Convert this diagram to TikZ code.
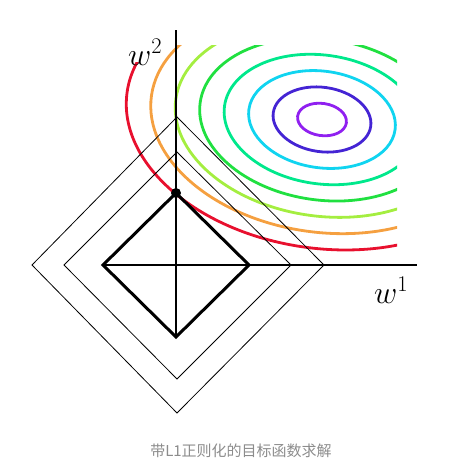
\RequirePackage{fix-cm}
\documentclass[tikz,border=0pt]{standalone}
\usepackage{fontspec}
\newfontfamily\cjk{Noto Sans CJK SC}
\definecolor{cRed}{HTML}{E8102E}
\definecolor{cOrange}{HTML}{F5A040}
\definecolor{cLime}{HTML}{A4EE40}
\definecolor{cGreen}{HTML}{20E040}
\definecolor{cSpring}{HTML}{00E88C}
\definecolor{cCyan}{HTML}{10D4F0}
\definecolor{cBlue}{HTML}{4424D4}
\definecolor{cPurple}{HTML}{9020F0}
\definecolor{capgray}{HTML}{8C8C8C}
\tikzset{
  contour/.style={line width=2.8pt},
  axisline/.style={line width=2.8pt},
  boldbox/.style={line width=3pt, line join=miter},
  thinbox/.style={line width=0.8pt, line join=miter},
  axlabel/.style={font=\fontsize{32}{36}\selectfont, inner sep=0pt, anchor=base west},
}
\begin{document}
\begin{tikzpicture}[x=1pt,y=-1pt]
\useasboundingbox (0,0) rectangle (454,467);
% contours
\begin{scope}
  \clip (0,45) rectangle (397,265);
  \begin{scope}[rotate around={-8:(322,119.5)}]
    \draw[contour,cPurple] (322,119.5) ellipse [x radius=24.6pt, y radius=16.1pt];
    \draw[contour,cBlue]   (322,119.5) ellipse [x radius=49.2pt, y radius=32.2pt];
    \draw[contour,cCyan]   (322,119.5) ellipse [x radius=73.8pt, y radius=48.3pt];
    \draw[contour,cSpring] (322,119.5) ellipse [x radius=98.4pt, y radius=64.4pt];
    \draw[contour,cGreen]  (322,119.5) ellipse [x radius=123pt, y radius=80.5pt];
    \draw[contour,cLime]   (322,119.5) ellipse [x radius=147.6pt, y radius=96.6pt];
    \draw[contour,cOrange] (322,119.5) ellipse [x radius=172.2pt, y radius=112.7pt];
  \end{scope}
\end{scope}
\begin{scope}
  \clip (0,62) rectangle (397,265);
  \draw[contour,cRed,rotate around={-8:(322,119.5)}] (322,119.5) ellipse [x radius=196.8pt, y radius=128.8pt];
\end{scope}
% thin diamonds
\draw[thinbox] (32,265) -- (177,117) -- (324,265) -- (177,413) -- cycle;
\draw[thinbox] (64,265) -- (177,152) -- (291,265) -- (177,379) -- cycle;
% bold diamond
\coordinate (L) at (103,265);
\coordinate (R) at (249,265);
\coordinate (T) at (176,193);
\coordinate (B) at (176,337);
\draw[boldbox] (L) -- (T) -- (R) -- (B) -- cycle;
% axes
\coordinate (ytop) at (176,30);
\coordinate (xend) at (417,265);
\draw[axisline] (ytop) -- (B);
\draw[axisline] (L) -- (xend);
\fill (T) circle [radius=5pt];
% labels
\node[axlabel] (w2) at (128,65) {$w^2$};
\node[axlabel] (w1) at (374,303) {$w^1$};
\node[font=\cjk\fontsize{15}{18}\selectfont, text=capgray, inner sep=0pt] (cap) at (241,451) {带L1正则化的目标函数求解};
\end{tikzpicture}
\end{document}
